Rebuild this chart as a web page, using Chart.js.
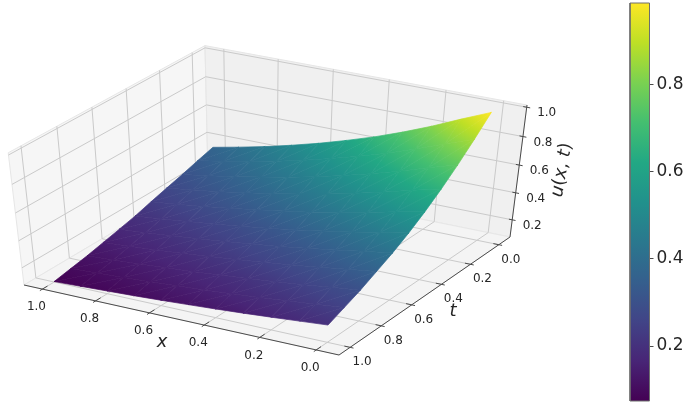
<!DOCTYPE html>
<html>
<head>
<meta charset="utf-8">
<script src="https://cdn.jsdelivr.net/npm/chart.js@4"></script>
<style>
  html, body { margin: 0; padding: 0; background: #fff; }
  #wrap { width: 685px; height: 407px; }
</style>
</head>
<body>
<div id="wrap"><canvas id="chart"></canvas></div>
<script>
const xValues = [0, 0.1, 0.2, 0.3, 0.4, 0.5, 0.6, 0.7, 0.8, 0.9, 1];
const tValues = [0, 0.1, 0.2, 0.3, 0.4, 0.5, 0.6, 0.7, 0.8, 0.9, 1];
// one row per t, one column per x
const uRows = [
  [0.987, 0.905, 0.819, 0.741, 0.670, 0.607, 0.549, 0.497, 0.449, 0.407, 0.368],
  [0.870, 0.800, 0.726, 0.659, 0.598, 0.544, 0.493, 0.448, 0.406, 0.369, 0.335],
  [0.760, 0.701, 0.638, 0.581, 0.528, 0.481, 0.438, 0.399, 0.362, 0.330, 0.300],
  [0.660, 0.611, 0.558, 0.509, 0.464, 0.424, 0.386, 0.353, 0.321, 0.294, 0.268],
  [0.570, 0.529, 0.483, 0.442, 0.403, 0.370, 0.338, 0.309, 0.282, 0.258, 0.235],
  [0.490, 0.453, 0.414, 0.378, 0.345, 0.316, 0.288, 0.263, 0.240, 0.219, 0.200],
  [0.420, 0.389, 0.355, 0.325, 0.296, 0.271, 0.248, 0.226, 0.206, 0.188, 0.172],
  [0.360, 0.333, 0.304, 0.277, 0.253, 0.231, 0.210, 0.191, 0.174, 0.159, 0.145],
  [0.300, 0.277, 0.251, 0.229, 0.208, 0.190, 0.172, 0.157, 0.143, 0.130, 0.118],
  [0.250, 0.230, 0.209, 0.189, 0.172, 0.156, 0.142, 0.129, 0.116, 0.106, 0.096],
  [0.200, 0.183, 0.166, 0.150, 0.136, 0.123, 0.111, 0.100, 0.091, 0.082, 0.074]
];
const xTicks = [1, 0.8, 0.6, 0.4, 0.2, 0];
const tTicks = [1, 0.8, 0.6, 0.4, 0.2, 0];
const uTicks = [0.2, 0.4, 0.6, 0.8, 1];
const colorbarTicks = [0.2, 0.4, 0.6, 0.8];
const uMin = 0.074;
const uMax = 0.987;

const viridis = ['#440154', '#482576', '#414487', '#355f8d', '#2a788e', '#21918c',
  '#22a884', '#44bf70', '#7ad151', '#bddf26', '#fde725'];

// limits of the 3d box and where its corners land on the page
const xLim = [-0.08, 1.07], tLim = [-0.08, 1.07], uLim = [0.07, 1.015];
const C0 = [510, 237], D0 = [208, 176], B0 = [339, 355], G0 = [527, 105], A0 = [24, 285], E0 = [205, 45];

// perspective weights from the box corners
const det = (D0[0] - A0[0]) * (B0[1] - A0[1]) - (B0[0] - A0[0]) * (D0[1] - A0[1]);
const wa = ((C0[0] - A0[0]) * (B0[1] - A0[1]) - (B0[0] - A0[0]) * (C0[1] - A0[1])) / det;
const wb = ((D0[0] - A0[0]) * (C0[1] - A0[1]) - (C0[0] - A0[0]) * (D0[1] - A0[1])) / det;
const wc = (C0[0] - wa * D0[0] + E0[0] * (wa - 1)) / (G0[0] - E0[0]);

function project(x, t, u) {
  const a = (x - xLim[0]) / (xLim[1] - xLim[0]);
  const b = (t - tLim[0]) / (tLim[1] - tLim[0]);
  const c = (u - uLim[0]) / (uLim[1] - uLim[0]);
  const d = 1 + a * (wa - 1) + b * (wb - 1) + c * (wc - 1);
  return {
    x: (C0[0] + a * (wa * D0[0] - C0[0]) + b * (wb * B0[0] - C0[0]) + c * (wc * G0[0] - C0[0])) / d,
    y: (C0[1] + a * (wa * D0[1] - C0[1]) + b * (wb * B0[1] - C0[1]) + c * (wc * G0[1] - C0[1])) / d
  };
}

function cmap(v) {
  const f = Math.min(1, Math.max(0, (v - uMin) / (uMax - uMin))) * (viridis.length - 1);
  const i = Math.min(viridis.length - 2, Math.floor(f));
  const p = parseInt(viridis[i].slice(1), 16), q = parseInt(viridis[i + 1].slice(1), 16);
  const mix = (s) => Math.round(((p >> s) & 255) + (((q >> s) & 255) - ((p >> s) & 255)) * (f - i));
  return `rgb(${mix(16)},${mix(8)},${mix(0)})`;
}

// linear gradient across one surface triangle, exact for its three corner values
function triGradient(chart, pts, vals) {
  const sx = chart.scales.x, sy = chart.scales.y;
  const px = pts.map((p) => ({ x: sx.getPixelForValue(p.x), y: sy.getPixelForValue(p.y) }));
  if (!isFinite(px[0].x) || !isFinite(px[0].y)) return cmap(vals[0]);
  const d1 = [px[1].x - px[0].x, px[1].y - px[0].y];
  const d2 = [px[2].x - px[0].x, px[2].y - px[0].y];
  const du1 = vals[1] - vals[0], du2 = vals[2] - vals[0];
  const m = d1[0] * d2[1] - d1[1] * d2[0];
  const gx = (du1 * d2[1] - du2 * d1[1]) / m;
  const gy = (d1[0] * du2 - d2[0] * du1) / m;
  const g2 = gx * gx + gy * gy;
  const lo = Math.min(...vals), hi = Math.max(...vals);
  const grad = chart.ctx.createLinearGradient(
    px[0].x + gx * (lo - vals[0]) / g2, px[0].y + gy * (lo - vals[0]) / g2,
    px[0].x + gx * (hi - vals[0]) / g2, px[0].y + gy * (hi - vals[0]) / g2);
  grad.addColorStop(0, cmap(lo));
  // stops on the colormap knots so neighbouring triangles agree along their edge
  viridis.forEach((c, i) => {
    const v = uMin + (uMax - uMin) * i / (viridis.length - 1);
    if (v > lo && v < hi) grad.addColorStop((v - lo) / (hi - lo), c);
  });
  grad.addColorStop(1, cmap(hi));
  return grad;
}

function barGradient(chart) {
  const sc = chart.scales.cbar;
  const y0 = sc.getPixelForValue(uMin), y1 = sc.getPixelForValue(uMax);
  if (!isFinite(y0) || !isFinite(y1)) return viridis[5];
  const grad = chart.ctx.createLinearGradient(0, y0, 0, y1);
  viridis.forEach((c, i) => grad.addColorStop(i / (viridis.length - 1), c));
  return grad;
}

function lineSet(points, color, width) {
  return { data: points, showLine: true, borderColor: color, borderWidth: width, pointRadius: 0, fill: false, clip: false };
}
function paneSet(points, color) {
  return { data: points, showLine: true, backgroundColor: color, borderColor: '#e6e6e6', borderWidth: 1, pointRadius: 0, fill: 'shape', clip: false };
}
function triSet(idx) {
  const pts = idx.map(([a, b]) => project(xValues[a], tValues[b], uRows[b][a]));
  const vals = idx.map(([a, b]) => uRows[b][a]);
  const paint = (c) => triGradient(c.chart, pts, vals);
  return { data: pts.concat([pts[0]]), showLine: true, backgroundColor: paint, borderColor: paint, borderWidth: 0.7, pointRadius: 0, fill: 'shape', clip: false };
}

const datasets = [];
const [x0, x1] = xLim, [t0, t1] = tLim, [u0, u1] = uLim;

// panes
datasets.push(paneSet([project(x1, t1, u0), project(x1, t0, u0), project(x1, t0, u1), project(x1, t1, u1), project(x1, t1, u0)], '#f6f6f6'));
datasets.push(paneSet([project(x1, t0, u0), project(x0, t0, u0), project(x0, t0, u1), project(x1, t0, u1), project(x1, t0, u0)], '#f0f0f0'));
datasets.push(paneSet([project(x1, t1, u0), project(x0, t1, u0), project(x0, t0, u0), project(x1, t0, u0), project(x1, t1, u0)], '#f4f4f4'));

// grid lines fold over the panes
xTicks.forEach((x) => datasets.push(lineSet([project(x, t1, u0), project(x, t0, u0), project(x, t0, u1)], '#cacaca', 1)));
tTicks.forEach((t) => datasets.push(lineSet([project(x0, t, u0), project(x1, t, u0), project(x1, t, u1)], '#cacaca', 1)));
uTicks.forEach((u) => datasets.push(lineSet([project(x1, t1, u), project(x1, t0, u), project(x0, t0, u)], '#cacaca', 1)));

// axis lines and ticks
datasets.push(lineSet([project(x1, t1, u0), project(x0, t1, u0), project(x0, t0, u0), project(x0, t0, u1)], '#4a4a4a', 1));
xTicks.forEach((x) => datasets.push(lineSet([project(x, t1 - 0.03, u0), project(x, t1 + 0.015, u0)], '#4a4a4a', 1)));
tTicks.forEach((t) => datasets.push(lineSet([project(x0 + 0.02, t, u0), project(x0 - 0.012, t, u0)], '#4a4a4a', 1)));
uTicks.forEach((u) => datasets.push(lineSet([project(x0 + 0.012, t0, u), project(x0 - 0.012, t0, u)], '#4a4a4a', 1)));

// surface, two triangles per table cell
for (let j = 0; j < tValues.length - 1; j++) {
  for (let i = 0; i < xValues.length - 1; i++) {
    datasets.push(triSet([[i, j], [i + 1, j], [i + 1, j + 1]]));
    datasets.push(triSet([[i, j], [i + 1, j + 1], [i, j + 1]]));
  }
}

// colorbar, drawn on its own value axis
datasets.push({
  data: [{ x: 630, y: uMin }, { x: 649.5, y: uMin }, { x: 649.5, y: uMax }, { x: 630, y: uMax }, { x: 630, y: uMin }],
  yAxisID: 'cbar', showLine: true, backgroundColor: (c) => barGradient(c.chart), borderColor: '#6e6e6e', borderWidth: 1,
  pointRadius: 0, fill: 'shape', clip: false
});

// chart.js paints the first dataset last, so flip to get painter's order
datasets.reverse();

function drawLabel(ctx, text, px, py, font) {
  ctx.font = font;
  ctx.fillText(text, px, py);
}

const labelPlugin = {
  id: 'axisLabels',
  afterDatasetsDraw(chart) {
    const ctx = chart.ctx;
    const sx = chart.scales.x, sy = chart.scales.y;
    const tickFont = '12px "DejaVu Sans"';
    const mathFont = 'italic 18px "DejaVu Sans"';
    ctx.save();
    ctx.fillStyle = '#262626';
    ctx.textAlign = 'center';
    ctx.textBaseline = 'middle';
    const at = (p, dx, dy) => [sx.getPixelForValue(p.x) + dx, sy.getPixelForValue(p.y) + dy];
    xTicks.forEach((x) => { const [a, b] = at(project(x, t1, u0), -6, 18); drawLabel(ctx, x.toFixed(1), a, b, tickFont); });
    tTicks.forEach((t) => { const [a, b] = at(project(x0, t, u0), 12, 15); drawLabel(ctx, t.toFixed(1), a, b, tickFont); });
    uTicks.forEach((u) => { const [a, b] = at(project(x0, t0, u), 20, 6); drawLabel(ctx, u.toFixed(1), a, b, tickFont); });
    drawLabel(ctx, 'x', 162, 342, mathFont);
    drawLabel(ctx, 't', 453, 311, mathFont);
    // u(x, t) runs along the value axis, parentheses upright
    ctx.translate(562, 170);
    ctx.rotate(-80 * Math.PI / 180);
    ctx.textAlign = 'left';
    const runs = [['u', mathFont], ['(', '18px "DejaVu Sans"'], ['x', mathFont], [', ', '18px "DejaVu Sans"'], ['t', mathFont], [')', '18px "DejaVu Sans"']];
    let total = 0;
    runs.forEach(([s, f]) => { ctx.font = f; total += ctx.measureText(s).width; });
    let pos = -total / 2;
    runs.forEach(([s, f]) => { ctx.font = f; ctx.fillText(s, pos, 0); pos += ctx.measureText(s).width; });
    ctx.restore();
  }
};

new Chart(document.getElementById('chart'), {
  type: 'scatter',
  data: { datasets: datasets },
  plugins: [labelPlugin],
  options: {
    responsive: true,
    maintainAspectRatio: false,
    animation: false,
    events: [],
    layout: { padding: { top: 3, bottom: 6, left: 0, right: 0 } },
    plugins: { legend: { display: false }, tooltip: { enabled: false }, title: { display: false } },
    scales: {
      x: { type: 'linear', display: false, min: 0, max: 649.5 },
      y: { type: 'linear', display: false, min: 3, max: 401, reverse: true },
      cbar: {
        type: 'linear',
        position: 'right',
        min: uMin,
        max: uMax,
        afterFit: (scale) => { scale.width = 35.5; scale.paddingTop = 0; scale.paddingBottom = 0; },
        afterBuildTicks: (scale) => { scale.ticks = colorbarTicks.map((v) => ({ value: v })); },
        grid: { drawOnChartArea: false, drawTicks: true, tickLength: 4, color: '#4a4a4a' },
        border: { display: false },
        ticks: {
          color: '#262626',
          padding: 3,
          font: { family: '"DejaVu Sans"', size: 17 },
          callback: (v) => v.toFixed(1)
        }
      }
    }
  }
});
</script>
</body>
</html>
